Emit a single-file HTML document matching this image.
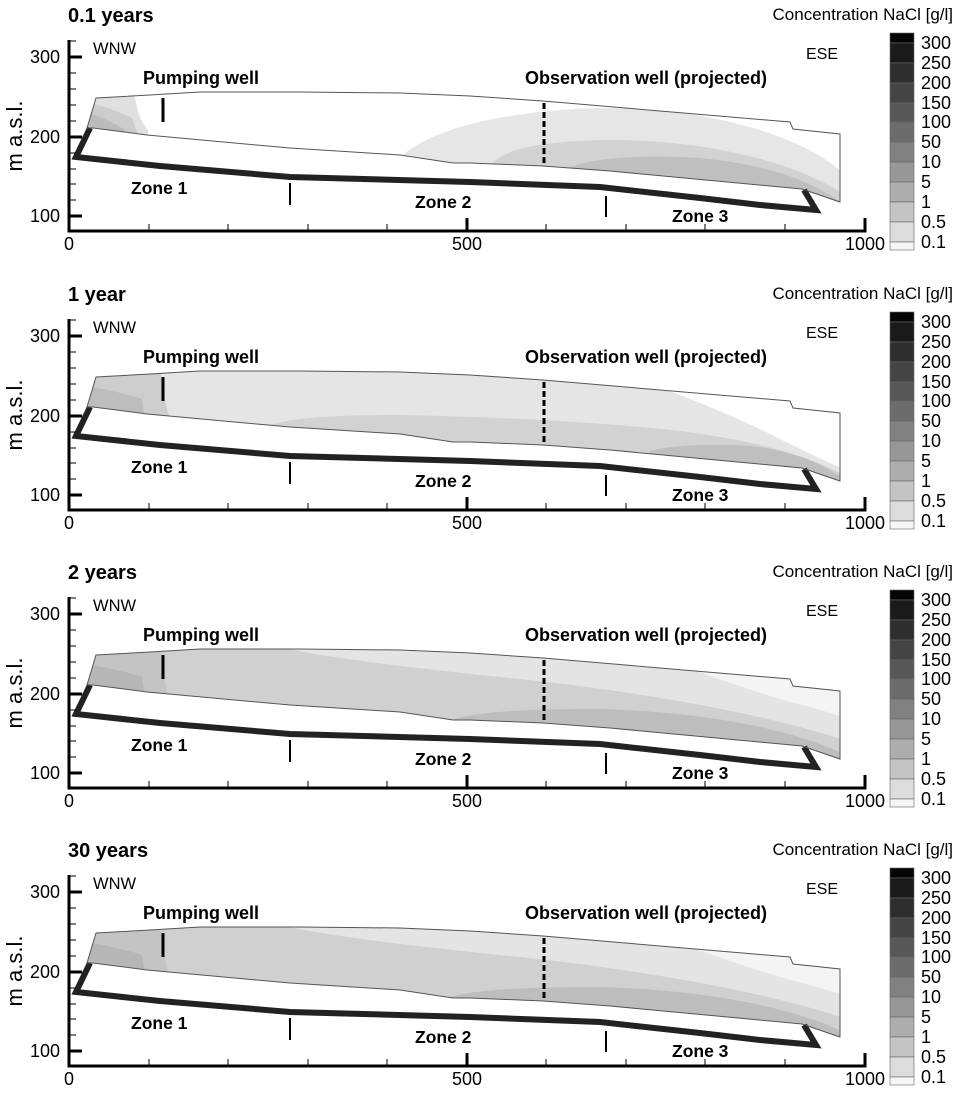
<!DOCTYPE html>
<html><head><meta charset="utf-8"><style>
html,body{margin:0;padding:0;background:#fff;}
svg{display:block;font-family:"Liberation Sans",Arial,sans-serif;}
.b{font-weight:bold;}
</style></head><body>
<svg width="960" height="1104" viewBox="0 0 960 1104" xmlns="http://www.w3.org/2000/svg">
<defs>
<clipPath id="cp"><path d="M96,98 L150,95 L200,92 L300,92 L400,93 L470,96 L543,101 L790,122 L793,129 L840,134 L840,202 L802,189 L610,171 L543,166 L470,163 L453,163 L400,155 L290,148 L147,135 L93,128 L87,128 Z"/></clipPath>
<g id="axes" fill="none" stroke="#000">
  <path d="M69,40 V231 H865 V218" stroke-width="3"/>
  <path d="M69,57 H82 M69,137 H82 M69,216 H82" stroke-width="3"/>
  <path d="M69,41 H76 M69,73 H76 M69,89 H76 M69,105 H76 M69,121 H76 M69,153 H76 M69,169 H76 M69,184 H76 M69,200 H76" stroke-width="1"/>
  <path d="M467,231 V218" stroke-width="3"/>
  <path d="M149,231 V224 M228,231 V224 M308,231 V224 M387,231 V224 M546,231 V224 M626,231 V224 M705,231 V224 M785,231 V224" stroke-width="1"/>
</g>
<g id="dom">
  <path d="M90,128 L76,157 L160,166 L290,177 L470,182 L600,187 L700,198 L760,205 L816,210 L804,190" fill="none" stroke="#222" stroke-width="6" stroke-linejoin="miter"/>
  <path d="M96,98 L150,95 L200,92 L300,92 L400,93 L470,96 L543,101 L790,122 L793,129 L840,134 L840,202 L802,189 L610,171 L543,166 L470,163 L453,163 L400,155 L290,148 L147,135 L93,128 L87,128 Z" fill="none" stroke="#555" stroke-width="1"/>
  <path d="M163,98 V122" stroke="#000" stroke-width="3"/>
  <path d="M544,103 V166" stroke="#000" stroke-width="3" stroke-dasharray="6,3"/>
  <path d="M290,183 V205 M606,196 V217" stroke="#000" stroke-width="2"/>
</g>
<g id="cbar" stroke="#666" stroke-width="0.6">
  <rect x="890" y="33" width="24" height="10" fill="#050505"/>
  <rect x="890" y="43" width="24" height="20" fill="#1a1a1a"/>
  <rect x="890" y="63" width="24" height="20" fill="#2e2e2e"/>
  <rect x="890" y="83" width="24" height="20" fill="#444"/>
  <rect x="890" y="103" width="24" height="19" fill="#575757"/>
  <rect x="890" y="122" width="24" height="20" fill="#6c6c6c"/>
  <rect x="890" y="142" width="24" height="20" fill="#818181"/>
  <rect x="890" y="162" width="24" height="20" fill="#979797"/>
  <rect x="890" y="182" width="24" height="20" fill="#adadad"/>
  <rect x="890" y="202" width="24" height="20" fill="#c4c4c4"/>
  <rect x="890" y="222" width="24" height="20" fill="#dcdcdc"/>
  <rect x="890" y="242" width="24" height="8" fill="#f6f6f6"/>
</g>
<g id="txt" font-size="18" fill="#000">
<text x="953" y="20" text-anchor="end" font-size="17">Concentration NaCl [g/l]</text>
<text x="93" y="54" font-size="16.5">WNW</text>
<text x="838" y="59" font-size="16" text-anchor="end">ESE</text>
<text x="143" y="84" class="b">Pumping well</text>
<text x="525" y="84" class="b">Observation well (projected)</text>
<text x="131" y="194" class="b" font-size="17.5">Zone 1</text>
<text x="415" y="208" class="b" font-size="17.5">Zone 2</text>
<text x="672" y="222" class="b" font-size="17.5">Zone 3</text>
<text x="60" y="63" text-anchor="end">300</text>
<text x="60" y="143" text-anchor="end">200</text>
<text x="60" y="222" text-anchor="end">100</text>
<text x="69" y="250" text-anchor="middle">0</text>
<text x="467" y="250" text-anchor="middle">500</text>
<text x="885" y="250" text-anchor="end">1000</text>
<text transform="translate(22,136) rotate(-90)" text-anchor="middle" font-size="22">m a.s.l.</text>
<text x="921" y="49">300</text><text x="921" y="69">250</text><text x="921" y="89">200</text><text x="921" y="109">150</text><text x="921" y="128">100</text><text x="921" y="148">50</text><text x="921" y="168">10</text><text x="921" y="188">5</text><text x="921" y="208">1</text><text x="921" y="228">0.5</text><text x="921" y="248">0.1</text>
</g>
</defs>

<g>
  <g clip-path="url(#cp)">
    <rect x="80" y="90" width="770" height="120" fill="#fff"/>
    <path d="M80,90 H130 C140,100 132,110 148,130 L148,140 H80 Z" fill="#e0e0e0"/>
    <path d="M80,100 C100,105 115,110 132,118 L140,140 H80 Z" fill="#cccccc"/>
    <path d="M80,110 C95,115 110,120 125,130 L125,140 H80 Z" fill="#bbbbbb"/>
    <path d="M398,160 C430,125 520,110 600,108 C720,108 810,140 845,175 V210 H398 Z" fill="#e6e6e6"/>
    <path d="M490,166 C505,145 560,140 620,140 C720,142 800,165 845,195 V210 H490 Z" fill="#d2d2d2"/>
    <path d="M565,170 C590,156 650,155 700,158 C770,165 810,180 845,205 V210 H565 Z" fill="#bfbfbf"/>
  </g>
  <use href="#dom"/><use href="#axes"/><use href="#cbar"/>
</g>
<g transform="translate(0,279)">
  <g clip-path="url(#cp)">
    <rect x="80" y="90" width="770" height="120" fill="#e5e5e5"/>
    <path d="M612,90 C650,105 700,122 760,150 C800,170 830,185 850,192 V90 Z" fill="#fff"/>
    <path d="M80,90 H160 C163,110 165,125 170,140 H80 Z" fill="#cdcdcd"/>
    <path d="M80,105 C100,110 130,115 142,120 L145,140 H80 Z" fill="#bdbdbd"/>
    <path d="M262,150 C280,138 340,136 400,136 C500,138 600,143 680,152 C760,162 820,180 850,200 V210 H262 Z" fill="#d2d2d2"/>
    <path d="M650,172 C670,166 720,164 760,168 C800,175 825,185 850,205 V210 H650 Z" fill="#bfbfbf"/>
  </g>
  <use href="#dom"/><use href="#axes"/><use href="#cbar"/>
</g>
<g transform="translate(0,557)">
  <g clip-path="url(#cp)">
    <rect x="80" y="90" width="770" height="120" fill="#d0d0d0"/>
    <path d="M280,90 C320,100 420,112 520,122 C640,135 760,155 850,185 V90 Z" fill="#e4e4e4"/>
    <path d="M640,90 C680,110 740,130 790,145 C820,152 835,158 850,162 V90 Z" fill="#f4f4f4"/>
    <path d="M80,90 H160 C163,110 165,125 168,140 H80 Z" fill="#c4c4c4"/>
    <path d="M80,105 C100,110 130,115 142,120 L145,140 H80 Z" fill="#b6b6b6"/>
    <path d="M445,165 C470,155 520,152 600,152 C700,155 790,170 850,200 V210 H445 Z" fill="#bdbdbd"/>
  </g>
  <use href="#dom"/><use href="#axes"/><use href="#cbar"/>
</g>
<g transform="translate(0,835)">
  <g clip-path="url(#cp)">
    <rect x="80" y="90" width="770" height="120" fill="#d0d0d0"/>
    <path d="M280,90 C320,100 420,112 520,122 C640,135 760,155 850,185 V90 Z" fill="#e4e4e4"/>
    <path d="M640,90 C680,110 740,130 790,145 C820,152 835,158 850,162 V90 Z" fill="#f4f4f4"/>
    <path d="M80,90 H160 C163,110 165,125 168,140 H80 Z" fill="#c4c4c4"/>
    <path d="M80,105 C100,110 130,115 142,120 L145,140 H80 Z" fill="#b6b6b6"/>
    <path d="M440,165 C465,155 520,152 600,152 C700,155 790,170 850,200 V210 H440 Z" fill="#bdbdbd"/>
  </g>
  <use href="#dom"/><use href="#axes"/><use href="#cbar"/>
</g>

<g font-size="18" fill="#000">
<g>
<text x="68" y="22" class="b" font-size="20">0.1 years</text>
<text x="953" y="20" text-anchor="end" font-size="17">Concentration NaCl [g/l]</text>
<text x="93" y="54" font-size="16.5">WNW</text>
<text x="838" y="59" font-size="16" text-anchor="end">ESE</text>
<text x="143" y="84" class="b">Pumping well</text>
<text x="525" y="84" class="b">Observation well (projected)</text>
<text x="131" y="194" class="b" font-size="17.5">Zone 1</text>
<text x="415" y="208" class="b" font-size="17.5">Zone 2</text>
<text x="672" y="222" class="b" font-size="17.5">Zone 3</text>
<text x="60" y="63" text-anchor="end">300</text><text x="60" y="143" text-anchor="end">200</text><text x="60" y="222" text-anchor="end">100</text>
<text x="69" y="250" text-anchor="middle">0</text><text x="467" y="250" text-anchor="middle">500</text><text x="885" y="250" text-anchor="end">1000</text>
<text transform="translate(22,136) rotate(-90)" text-anchor="middle" font-size="22">m a.s.l.</text>
<text x="921" y="49">300</text><text x="921" y="69">250</text><text x="921" y="89">200</text><text x="921" y="109">150</text><text x="921" y="128">100</text><text x="921" y="148">50</text><text x="921" y="168">10</text><text x="921" y="188">5</text><text x="921" y="208">1</text><text x="921" y="228">0.5</text><text x="921" y="248">0.1</text>
</g>
<g transform="translate(0,279)">
<text x="68" y="22" class="b" font-size="20">1 year</text>
<text x="953" y="20" text-anchor="end" font-size="17">Concentration NaCl [g/l]</text>
<text x="93" y="54" font-size="16.5">WNW</text>
<text x="838" y="59" font-size="16" text-anchor="end">ESE</text>
<text x="143" y="84" class="b">Pumping well</text>
<text x="525" y="84" class="b">Observation well (projected)</text>
<text x="131" y="194" class="b" font-size="17.5">Zone 1</text>
<text x="415" y="208" class="b" font-size="17.5">Zone 2</text>
<text x="672" y="222" class="b" font-size="17.5">Zone 3</text>
<text x="60" y="63" text-anchor="end">300</text><text x="60" y="143" text-anchor="end">200</text><text x="60" y="222" text-anchor="end">100</text>
<text x="69" y="250" text-anchor="middle">0</text><text x="467" y="250" text-anchor="middle">500</text><text x="885" y="250" text-anchor="end">1000</text>
<text transform="translate(22,136) rotate(-90)" text-anchor="middle" font-size="22">m a.s.l.</text>
<text x="921" y="49">300</text><text x="921" y="69">250</text><text x="921" y="89">200</text><text x="921" y="109">150</text><text x="921" y="128">100</text><text x="921" y="148">50</text><text x="921" y="168">10</text><text x="921" y="188">5</text><text x="921" y="208">1</text><text x="921" y="228">0.5</text><text x="921" y="248">0.1</text>
</g>
<g transform="translate(0,557)">
<text x="68" y="22" class="b" font-size="20">2 years</text>
<text x="953" y="20" text-anchor="end" font-size="17">Concentration NaCl [g/l]</text>
<text x="93" y="54" font-size="16.5">WNW</text>
<text x="838" y="59" font-size="16" text-anchor="end">ESE</text>
<text x="143" y="84" class="b">Pumping well</text>
<text x="525" y="84" class="b">Observation well (projected)</text>
<text x="131" y="194" class="b" font-size="17.5">Zone 1</text>
<text x="415" y="208" class="b" font-size="17.5">Zone 2</text>
<text x="672" y="222" class="b" font-size="17.5">Zone 3</text>
<text x="60" y="63" text-anchor="end">300</text><text x="60" y="143" text-anchor="end">200</text><text x="60" y="222" text-anchor="end">100</text>
<text x="69" y="250" text-anchor="middle">0</text><text x="467" y="250" text-anchor="middle">500</text><text x="885" y="250" text-anchor="end">1000</text>
<text transform="translate(22,136) rotate(-90)" text-anchor="middle" font-size="22">m a.s.l.</text>
<text x="921" y="49">300</text><text x="921" y="69">250</text><text x="921" y="89">200</text><text x="921" y="109">150</text><text x="921" y="128">100</text><text x="921" y="148">50</text><text x="921" y="168">10</text><text x="921" y="188">5</text><text x="921" y="208">1</text><text x="921" y="228">0.5</text><text x="921" y="248">0.1</text>
</g>
<g transform="translate(0,835)">
<text x="68" y="22" class="b" font-size="20">30 years</text>
<text x="953" y="20" text-anchor="end" font-size="17">Concentration NaCl [g/l]</text>
<text x="93" y="54" font-size="16.5">WNW</text>
<text x="838" y="59" font-size="16" text-anchor="end">ESE</text>
<text x="143" y="84" class="b">Pumping well</text>
<text x="525" y="84" class="b">Observation well (projected)</text>
<text x="131" y="194" class="b" font-size="17.5">Zone 1</text>
<text x="415" y="208" class="b" font-size="17.5">Zone 2</text>
<text x="672" y="222" class="b" font-size="17.5">Zone 3</text>
<text x="60" y="63" text-anchor="end">300</text><text x="60" y="143" text-anchor="end">200</text><text x="60" y="222" text-anchor="end">100</text>
<text x="69" y="250" text-anchor="middle">0</text><text x="467" y="250" text-anchor="middle">500</text><text x="885" y="250" text-anchor="end">1000</text>
<text transform="translate(22,136) rotate(-90)" text-anchor="middle" font-size="22">m a.s.l.</text>
<text x="921" y="49">300</text><text x="921" y="69">250</text><text x="921" y="89">200</text><text x="921" y="109">150</text><text x="921" y="128">100</text><text x="921" y="148">50</text><text x="921" y="168">10</text><text x="921" y="188">5</text><text x="921" y="208">1</text><text x="921" y="228">0.5</text><text x="921" y="248">0.1</text>
</g>
</g>
</svg>
</body></html>
